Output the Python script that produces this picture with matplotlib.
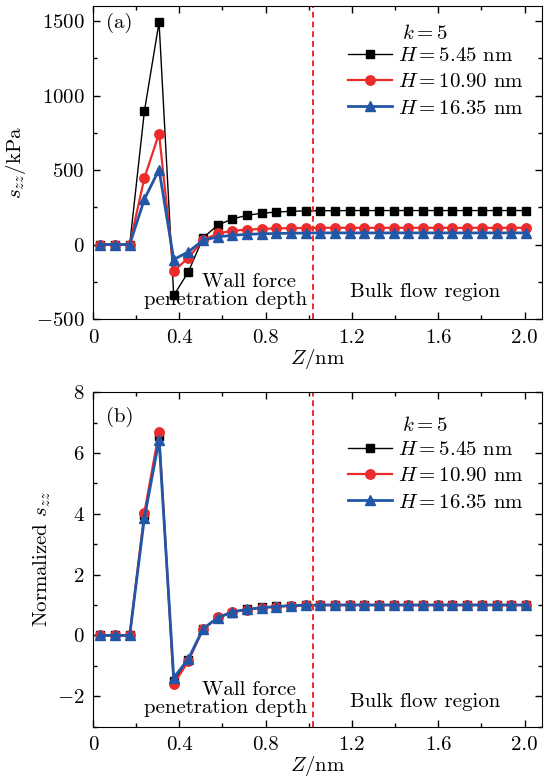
import numpy as np
import matplotlib
matplotlib.use("Agg")
import matplotlib.pyplot as plt
from matplotlib.ticker import MultipleLocator, FuncFormatter

plt.rcParams['font.family'] = 'serif'
plt.rcParams['font.serif'] = ['cmr10', 'DejaVu Serif']
plt.rcParams['mathtext.fontset'] = 'cm'
plt.rcParams['axes.formatter.use_mathtext'] = True
plt.rcParams['font.size'] = 15

# Z positions of the bins (nm)
z = [0.034, 0.102, 0.170, 0.238, 0.306, 0.374, 0.442, 0.510, 0.578, 0.646,
     0.714, 0.782, 0.850, 0.918, 0.986, 1.054, 1.122, 1.190, 1.258, 1.326,
     1.394, 1.462, 1.530, 1.598, 1.666, 1.734, 1.802, 1.870, 1.938, 2.006]

# panel (a): s_zz in kPa
szz_545 = [0, 0, 0, 894, 1493, -342, -183, 45, 130, 172, 196, 210, 218, 223, 226,
           227, 227, 228, 228, 228, 228, 228, 228, 228, 228, 228, 228, 228, 228, 228]
szz_1090 = [0, 0, 0, 447, 745, -179, -89, 29, 74, 92, 100, 105, 108, 110, 111,
            112, 112, 112, 112, 112, 112, 112, 112, 112, 112, 112, 112, 112, 112, 112]
szz_1635 = [0, 0, 0, 304, 503, -101, -49, 29, 51, 62, 68, 72, 74, 76, 77,
            78, 78, 78, 78, 78, 78, 78, 78, 78, 78, 78, 78, 78, 78, 78]

# panel (b): normalized s_zz
norm_545 = [0, 0, 0, 3.95, 6.55, -1.50, -0.80, 0.20, 0.57, 0.75, 0.86, 0.92, 0.96, 0.98, 0.99,
            1.0, 1.0, 1.0, 1.0, 1.0, 1.0, 1.0, 1.0, 1.0, 1.0, 1.0, 1.0, 1.0, 1.0, 1.0]
norm_1090 = [0, 0, 0, 4.04, 6.70, -1.61, -0.84, 0.20, 0.60, 0.77, 0.85, 0.91, 0.95, 0.98, 0.99,
             1.0, 1.0, 1.0, 1.0, 1.0, 1.0, 1.0, 1.0, 1.0, 1.0, 1.0, 1.0, 1.0, 1.0, 1.0]
norm_1635 = [0, 0, 0, 3.86, 6.43, -1.39, -0.77, 0.22, 0.58, 0.77, 0.86, 0.91, 0.95, 0.98, 0.99,
             1.0, 1.0, 1.0, 1.0, 1.0, 1.0, 1.0, 1.0, 1.0, 1.0, 1.0, 1.0, 1.0, 1.0, 1.0]

labels = [r'$H = 5.45$ nm', r'$H = 10.90$ nm', r'$H = 16.35$ nm']
wall_depth = 1.02

black, red, blue = 'black', '#ec2b2b', '#2257a7'

fig = plt.figure(figsize=(5.44, 7.78), dpi=100)
ax1 = fig.add_axes([0.171, 0.590, 0.825, 0.402])
ax2 = fig.add_axes([0.171, 0.066, 0.825, 0.430])


def draw(ax, ys, leg_top, k_y):
    ax.plot(z, ys[0], color=black, lw=1.0, marker='s', ms=5.8, label=labels[0])
    ax.plot(z, ys[1], color=red, lw=1.6, marker='o', ms=6.8, label=labels[1])
    ax.plot(z, ys[2], color=blue, lw=2.0, marker='^', ms=7.8, label=labels[2])
    ax.axvline(wall_depth, color=red, ls=(0, (3, 2)), lw=1.4)
    ax.set_xlim(0, 2.08)
    ax.xaxis.set_major_locator(MultipleLocator(0.4))
    ax.xaxis.set_minor_locator(MultipleLocator(0.2))
    ax.xaxis.set_major_formatter(FuncFormatter(lambda v, p: '0' if abs(v) < 1e-9 else f'{v:.1f}'))
    ax.tick_params(which='both', direction='in', top=True, right=True, width=1.0)
    ax.tick_params(which='major', length=5)
    ax.tick_params(which='minor', length=3)
    ax.tick_params(axis='x', which='major', pad=7)
    ax.tick_params(axis='y', which='major', pad=6)
    ax.set_xlabel(r'$Z$/nm', labelpad=0)
    ax.text(0.688, k_y, r'$k = 5$', transform=ax.transAxes, ha='left', va='center')
    ax.legend(loc='upper left', bbox_to_anchor=(0.568, leg_top), frameon=False,
              borderpad=0, borderaxespad=0,
              handlelength=2.1, handletextpad=0.3, labelspacing=0.37)


draw(ax1, [szz_545, szz_1090, szz_1635], 0.871, 0.914)
ax1.set_ylim(-500, 1600)
ax1.yaxis.set_major_locator(MultipleLocator(500))
ax1.yaxis.set_minor_locator(MultipleLocator(250))
ax1.set_ylabel(r'$s_{zz}$/kPa')
ax1.yaxis.set_label_coords(-0.145, 0.5)
ax1.text(0.06, 1490, '(a)', ha='left', va='center')
ax1.text(0.725, -255, 'Wall force', ha='center', va='center')
ax1.text(0.615, -375, 'penetration depth', ha='center', va='center')
ax1.text(1.54, -320, 'Bulk flow region', ha='center', va='center')

draw(ax2, [norm_545, norm_1090, norm_1635], 0.855, 0.901)
ax2.set_ylim(-3, 8)
ax2.yaxis.set_major_locator(MultipleLocator(2))
ax2.yaxis.set_minor_locator(MultipleLocator(1))
ax2.set_ylabel(r'Normalized $s_{zz}$')
ax2.yaxis.set_label_coords(-0.09, 0.5)
ax2.text(0.06, 7.2, '(b)', ha='left', va='center')
ax2.text(0.725, -1.78, 'Wall force', ha='center', va='center')
ax2.text(0.615, -2.38, 'penetration depth', ha='center', va='center')
ax2.text(1.54, -2.2, 'Bulk flow region', ha='center', va='center')

fig.savefig('out.png', dpi=100)
